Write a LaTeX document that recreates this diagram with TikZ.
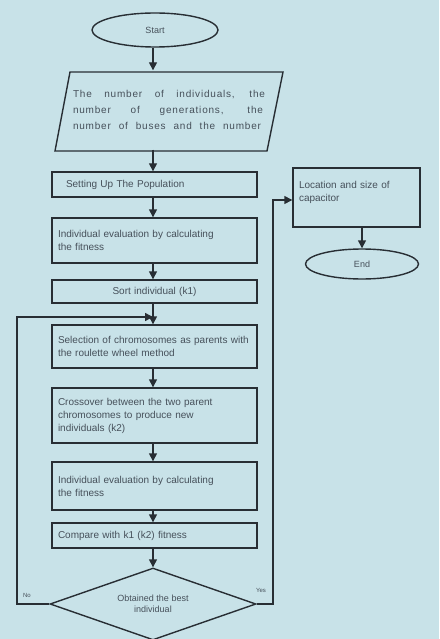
\documentclass[tikz,border=0pt]{standalone}
\usepackage{fontspec}
\setmainfont{Liberation Sans}
\usetikzlibrary{shapes.geometric,arrows.meta}
\definecolor{bg}{RGB}{200,226,232}
\definecolor{ink}{RGB}{40,46,52}
\definecolor{txt}{RGB}{70,80,90}
\begin{document}
\begin{tikzpicture}[x=1pt,y=-1pt,
  line/.style={draw=ink, line width=1.4pt},
  box/.style={line, rectangle, fill=bg, minimum width=205pt, text width=193pt, inner xsep=6pt, inner ysep=2pt,
     font=\fontsize{10}{13}\selectfont, text=txt, align=left},
  term/.style={line, ellipse, fill=bg, inner sep=0pt, font=\fontsize{9}{11}\selectfont, text=txt},
  arr/.style={line, -{Triangle[length=8pt,width=8pt]}},
  lbl/.style={font=\fontsize{6}{7}\selectfont, text=txt, inner sep=0pt}]
\fill[bg] (0,0) rectangle (439,639);
\useasboundingbox (0,0) rectangle (439,639);

\coordinate (col) at (153,0);

\node[term, minimum width=126pt, minimum height=34pt] (start) at (155,30) {Start};

\draw[line, fill=bg] (70,72) -- (283,72) -- (267,151) -- (55,151) -- cycle;
\node[rectangle, minimum height=79pt, minimum width=190pt, inner sep=0pt,
      font=\fontsize{10}{16}\selectfont\addfontfeatures{LetterSpace=8}, text=txt, align=left] (params) at (169,110)
  {\makebox[192pt][s]{The number of individuals, the}\\
   \makebox[190pt][s]{number of generations, the}\\
   \makebox[188pt][s]{number of buses and the number}};

\node[box, minimum height=25pt] (setup) at (154.5,184.5) {\hspace*{8pt}Setting Up The Population};
\node[box, minimum height=45pt] (eval1) at (154.5,240.5) {Individual evaluation by calculating\\the fitness};
\node[box, minimum height=23pt, align=center] (sort) at (154.5,291.5) {Sort individual (k1)};
\node[box, minimum height=43pt] (sel) at (154.5,346.5) {Selection of chromosomes as parents with\\the roulette wheel method};
\node[box, minimum height=55pt] (cross) at (154.5,415.5) {Crossover between the two parent\\chromosomes to produce new\\individuals (k2)};
\node[box, minimum height=48pt] (eval2) at (154.5,486) {Individual evaluation by calculating\\the fitness};
\node[box, minimum height=25pt] (comp) at (154.5,535.5) {Compare with k1 (k2) fitness};
\node[line, diamond, fill=bg, aspect=2.86, minimum width=206pt, minimum height=72pt, inner sep=0pt,
      font=\fontsize{9}{11}\selectfont, text=txt, align=center] (dec) at (153,604) {Obtained the best\\individual};

\node[box, minimum width=127pt, text width=115pt, minimum height=59pt] (loc) at (356.5,197.5)
  {Location and size of\\capacitor\\\mbox{}};
\node[term, minimum width=113pt, minimum height=30pt] (end) at (362,264) {End};

\coordinate (join) at (153,317);

\draw[arr] (col |- start.south) -- (col |- params.north);
\draw[arr] (col |- params.south) -- (col |- setup.north);
\draw[arr] (col |- setup.south) -- (col |- eval1.north);
\draw[arr] (col |- eval1.south) -- (col |- sort.north);
\draw[arr] (col |- sort.south) -- (col |- sel.north);
\draw[arr] (col |- sel.south) -- (col |- cross.north);
\draw[arr] (col |- cross.south) -- (col |- eval2.north);
\draw[arr] (col |- eval2.south) -- (col |- comp.north);
\draw[arr] (col |- comp.south) -- (dec.north);

\draw[arr] (dec.west) -- (17,604) -- (17,317) -- (join);
\draw[arr] (dec.east) -- (273,604) -- (273,200) -- (loc.west |- 0,200);
\draw[arr] (end.north |- loc.south) -- (end.north);

\node[lbl] (no) at (27,595) {No};
\node[lbl] (yes) at (261,590) {Yes};
\end{tikzpicture}
\end{document}
